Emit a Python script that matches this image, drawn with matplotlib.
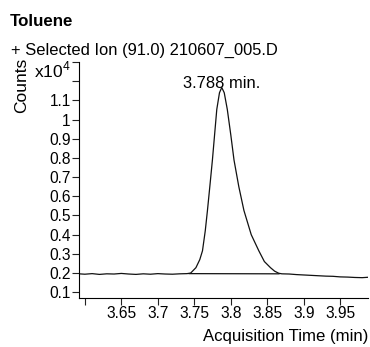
import numpy as np
import matplotlib
matplotlib.use("Agg")
import matplotlib.pyplot as plt

plt.rcParams['font.family'] = ['Liberation Sans', 'DejaVu Sans']
plt.rcParams['mathtext.fontset'] = 'custom'
plt.rcParams['mathtext.rm'] = 'Liberation Sans'

# chromatogram, counts in units of 1e4
times = [3.592, 3.60, 3.61, 3.62, 3.63, 3.64, 3.65, 3.66, 3.67, 3.68, 3.69,
         3.70, 3.71, 3.72, 3.73, 3.74, 3.745, 3.7522, 3.7575, 3.7612, 3.765,
         3.768, 3.7715, 3.7748, 3.778, 3.7808, 3.7845, 3.7876, 3.791, 3.7952,
         3.80, 3.8044, 3.811, 3.818, 3.828, 3.8384, 3.846, 3.8544, 3.86,
         3.8657, 3.87, 3.88, 3.89, 3.90, 3.91, 3.92, 3.93, 3.94, 3.95, 3.96,
         3.97, 3.98, 3.988]
counts = [0.196, 0.194, 0.197, 0.193, 0.196, 0.195, 0.198, 0.195, 0.193, 0.196,
          0.194, 0.197, 0.195, 0.194, 0.196, 0.197, 0.200, 0.228, 0.27, 0.316,
          0.42, 0.526, 0.66, 0.789, 0.93, 1.053, 1.14, 1.167, 1.14, 1.053,
          0.92, 0.789, 0.65, 0.526, 0.40, 0.316, 0.26, 0.228, 0.21, 0.199,
          0.196, 0.195, 0.192, 0.190, 0.188, 0.186, 0.184, 0.183, 0.180, 0.179,
          0.177, 0.176, 0.178]
base_t = [3.743, 3.866]
base_c = [0.197, 0.196]
peak_t = 3.788
peak_c = 1.167

xticks = [3.6, 3.65, 3.7, 3.75, 3.8, 3.85, 3.9, 3.95]
xlabels = ['', '3.65', '3.7', '3.75', '3.8', '3.85', '3.9', '3.95']
yticks = [0.1, 0.2, 0.3, 0.4, 0.5, 0.6, 0.7, 0.8, 0.9, 1.0, 1.1, 1.2, 1.3]
ylabels = ['0.1', '0.2', '0.3', '0.4', '0.5', '0.6', '0.7', '0.8', '0.9', '1', '1.1', '', '']

W, H = 370, 347
fig = plt.figure(figsize=(W/100, H/100), dpi=100)
ax = fig.add_axes([79/W, 1-298/H, (368-79)/W, (298-62)/H])

ax.plot(times, counts, color='#111111', lw=0.9)
ax.plot(base_t, base_c, color='#111111', lw=0.9)
ax.text(peak_t, peak_c, '3.788 min.', ha='center', va='baseline', fontsize=11.9)

ax.set_xlim(3.592, 3.988)
ax.set_ylim(0.07, 1.3)
ax.set_xticks(xticks)
ax.set_xticklabels(xlabels)
ax.set_yticks(yticks)
ax.set_yticklabels(ylabels)
ax.tick_params(labelsize=11.2, length=5, width=0.8, pad=1, color='#222222')
for s in ['top', 'right']:
    ax.spines[s].set_visible(False)
for s in ['left', 'bottom']:
    ax.spines[s].set_linewidth(0.8)

fig.text(10/W, 1-26/H, 'Toluene', fontsize=12.2, fontweight='bold', va='baseline')
fig.text(11/W, 1-55/H, '+ Selected Ion (91.0) 210607_005.D', fontsize=11.9, va='baseline')
fig.text(22/W, 1-85/H, 'Counts', fontsize=12.5, rotation=90, ha='center', va='center')
fig.text(34/W, 1-77/H, 'x10$^4$', fontsize=12.5, va='baseline')
fig.text(368/W, 1-341/H, 'Acquisition Time (min)', fontsize=12.1, ha='right', va='baseline')

fig.savefig('out.png', dpi=100)
